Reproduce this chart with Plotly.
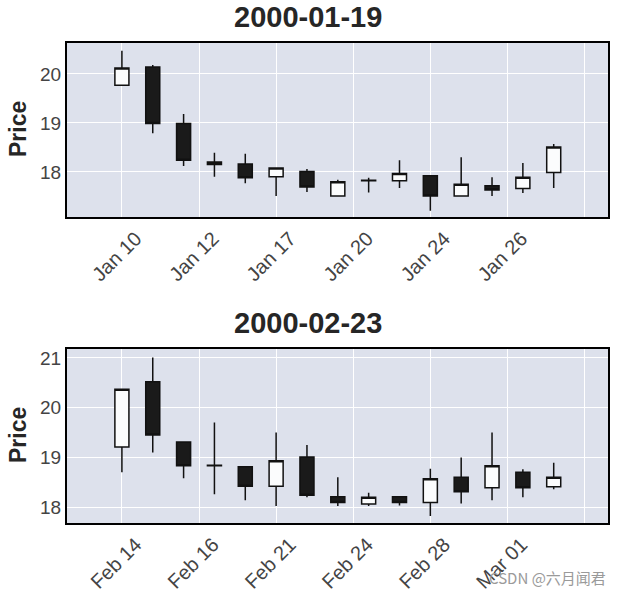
import plotly.graph_objects as go
from plotly.subplots import make_subplots

# ---- data: panel 1 (centred on 2000-01-19) ----
dates1 = ["2000-01-10", "2000-01-11", "2000-01-12", "2000-01-13", "2000-01-14",
          "2000-01-17", "2000-01-18", "2000-01-19", "2000-01-20", "2000-01-21",
          "2000-01-24", "2000-01-25", "2000-01-26", "2000-01-27", "2000-01-28"]
open1 = [19.77, 20.14, 18.99, 18.20, 18.16, 17.90, 18.01, 17.51, 17.82, 17.82, 17.92, 17.51, 17.72, 17.66, 17.99]
high1 = [20.47, 20.18, 19.18, 18.39, 18.37, 18.08, 18.06, 17.84, 17.88, 18.24, 17.93, 18.30, 17.89, 18.18, 18.57]
low1 = [19.76, 18.79, 18.12, 17.90, 17.77, 17.51, 17.59, 17.51, 17.58, 17.67, 17.21, 17.51, 17.51, 17.57, 17.67]
close1 = [20.12, 18.99, 18.24, 18.15, 17.88, 18.08, 17.69, 17.80, 17.83, 17.97, 17.51, 17.75, 17.63, 17.89, 18.51]
ticks1 = ["Jan 10", "Jan 12", "Jan 17", "Jan 20", "Jan 24", "Jan 26", ""]
title1 = "2000-01-19"

# ---- data: panel 2 (centred on 2000-02-23) ----
dates2 = ["2000-02-14", "2000-02-15", "2000-02-16", "2000-02-17", "2000-02-18",
          "2000-02-21", "2000-02-22", "2000-02-23", "2000-02-24", "2000-02-25",
          "2000-02-28", "2000-02-29", "2000-03-01", "2000-03-02", "2000-03-03"]
open2 = [19.21, 20.52, 19.31, 18.84, 18.81, 18.42, 19.01, 18.21, 18.06, 18.21, 18.09, 18.60, 18.39, 18.70, 18.41]
high2 = [20.37, 21.01, 19.31, 19.70, 18.81, 19.50, 19.25, 18.60, 18.29, 18.21, 18.77, 19.00, 19.50, 18.76, 18.89]
low2 = [18.70, 19.10, 18.58, 18.26, 18.14, 18.02, 18.20, 18.02, 18.02, 18.03, 17.82, 18.07, 18.14, 18.20, 18.36]
close2 = [20.37, 19.45, 18.83, 18.83, 18.42, 18.93, 18.24, 18.09, 18.20, 18.09, 18.57, 18.31, 18.83, 18.39, 18.60]
ticks2 = ["Feb 14", "Feb 16", "Feb 21", "Feb 24", "Feb 28", "Mar 01", ""]
title2 = "2000-02-23"

tick_pos = [0, 2.5, 5, 7.5, 10, 12.5, 15]

W, H = 626, 596
FONT = "Liberation Sans, Arial, sans-serif"
BG = "#dde1ec"

fig = make_subplots(rows=2, cols=1)

panels = [
    (1, dates1, open1, high1, low1, close1, ticks1, title1, [17.08, 20.63], [18, 19, 20], (43, 217)),
    (2, dates2, open2, high2, low2, close2, ticks2, title2, [17.68, 21.18], [18, 19, 20, 21], (349, 523)),
]

for row, d, o, h, l, c, tt, ttl, yr, yt, (top, bot) in panels:
    idx = list(range(len(d)))
    fig.add_trace(go.Candlestick(
        x=idx, open=o, high=h, low=l, close=c,
        increasing=dict(line=dict(color="#111111", width=1.5), fillcolor="#fbfcfd"),
        decreasing=dict(line=dict(color="#111111", width=1.5), fillcolor="#1a1a1a"),
        whiskerwidth=0, showlegend=False, hoverinfo="skip",
    ), row=row, col=1)
    xa = "xaxis" if row == 1 else "xaxis2"
    ya = "yaxis" if row == 1 else "yaxis2"
    fig.layout[xa].update(
        domain=[67 / W, 608 / W], range=[-1.78, 15.76],
        tickmode="array", tickvals=tick_pos, ticktext=tt, tickangle=-45,
        ticklabelshift=14, ticklabelstandoff=0,
        showgrid=True, gridcolor="white", gridwidth=1.2,
        showline=True, mirror=True, linecolor="black", linewidth=2,
        ticks="", zeroline=False, rangeslider=dict(visible=False),
        tickfont=dict(family=FONT, size=20, color="#444444"),
    )
    fig.layout[ya].update(
        domain=[1 - bot / H, 1 - top / H], range=yr,
        tickmode="array", tickvals=yt,
        showgrid=True, gridcolor="white", gridwidth=1.2,
        showline=True, mirror=True, linecolor="black", linewidth=2,
        ticks="", zeroline=False,
        tickfont=dict(family=FONT, size=19, color="#444444"),
    )
    fig.add_annotation(text="<b>%s</b>" % ttl, xref="paper", yref="paper",
                       x=308 / W, y=1 - (top - 26) / H, showarrow=False,
                       font=dict(family=FONT, size=29, color="#262626"),
                       xanchor="center", yanchor="middle")
    fig.add_annotation(text="<b>Price</b>", xref="paper", yref="paper",
                       x=18 / W, y=1 - ((top + bot) / 2 - 1) / H, showarrow=False,
                       textangle=-90,
                       font=dict(family=FONT, size=23, color="#262626"),
                       xanchor="center", yanchor="middle")

fig.add_annotation(text="CSDN @六月闻君", xref="paper", yref="paper",
                   x=608 / W, y=1 - 577 / H, showarrow=False,
                   font=dict(family="Noto Sans CJK SC, sans-serif", size=15, color="#9a9a9a"),
                   xanchor="right", yanchor="middle")

fig.update_layout(
    width=W, height=H, margin=dict(l=0, r=0, t=0, b=0),
    paper_bgcolor="white", plot_bgcolor=BG, boxgap=0.35,
    showlegend=False,
)

fig.write_html("out.html")
